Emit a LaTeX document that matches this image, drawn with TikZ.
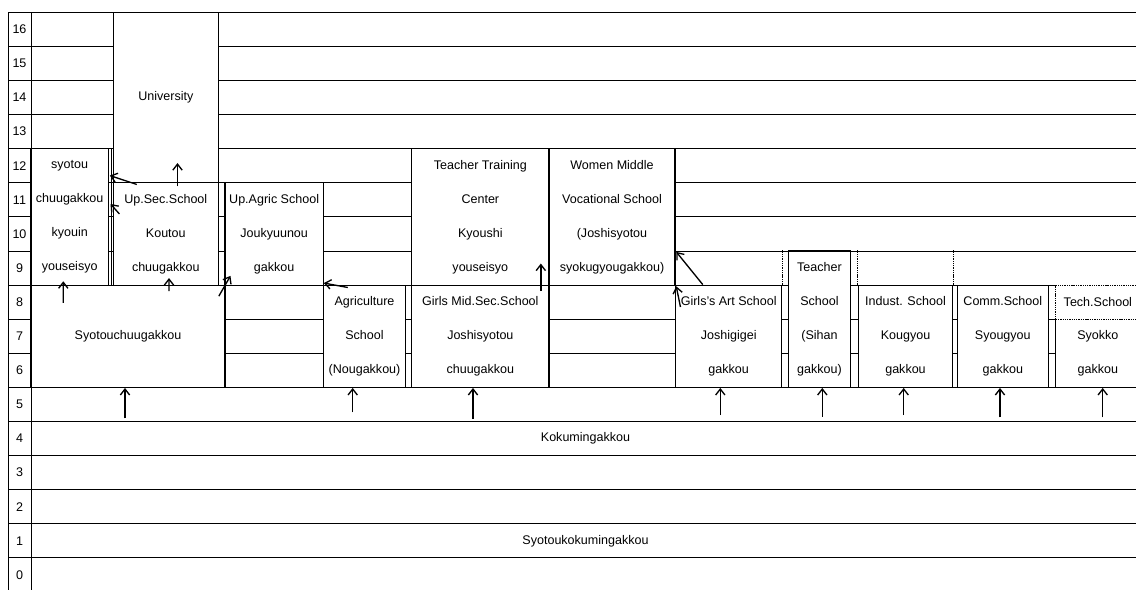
\documentclass[tikz,border=0pt]{standalone}
\usepackage{fontspec}
\setmainfont{Liberation Sans}
\usetikzlibrary{arrows.meta}
\newcommand{\chartfont}{\fontsize{9.4pt}{25.575pt}\selectfont}
\begin{document}
\begin{tikzpicture}[x=0.75pt, y=25.575pt, every node/.style={font=\chartfont, inner sep=0pt},
  school/.style 2 args={draw=black, fill=white, line width=0.8pt, minimum width=#1*0.75pt, minimum height=#2*25.575pt, align=center},
  flow/.style={-{Straight Barb[length=4.5pt,width=7pt]}, line width=1pt},
  rule/.style={draw=black, line width=0.75pt},
  broken/.style={draw=black, line width=0.6pt, dash pattern=on 1pt off 0.7pt}]
\useasboundingbox (0,0.361) rectangle (1136,-16.912);
\foreach \r in {0,...,16} \draw [rule] (8,-\r) -- (1140,-\r);
\draw [rule] (8,0) -- (8,-17);
\draw [rule] (31,0) -- (31,-17);
\foreach \r in {0,...,16} \node (lv\r) at (19.5,\r-16.5) {\r};
\node [school={105}{5}] (univ) at (165.8,-2.5) {University};
\node [school={77.3}{4}] (syotou) at (69.65,-6) {syotou\\chuugakkou\\kyouin\\youseisyo};
\draw [black, line width=0.8pt] ([shift={(2.4,0)}]syotou.north east) -- ([shift={(2.4,0)}]syotou.south east);
\node [school={105}{3}] (upsec) at (165.8,-6.5) {Up.Sec.School\\Koutou\\chuugakkou};
\node [school={98.3}{3}] (upagric) at (274.15,-6.5) {Up.Agric School\\Joukyuunou\\gakkou};
\node [school={194}{3}] (syoc) at (128,-9.5) {Syotouchuugakkou};
\node [school={82.4}{3}] (agri) at (364.5,-9.5) {Agriculture\\School\\(Nougakkou)};
\node [school={137.3}{4}] (teach) at (480.35,-6) {Teacher Training\\Center\\Kyoushi\\youseisyo};
\node [school={137.3}{3}] (girlsmid) at (480.35,-9.5) {Girls Mid.Sec.School\\Joshisyotou\\chuugakkou};
\node [school={126}{4}] (women) at (612,-6) {Women Middle\\Vocational School\\(Joshisyotou\\syokugyougakkou)};
\node [school={106}{3}] (girlsart) at (728.7,-9.5) {Girls's Art School\\Joshigigei\\gakkou};
\node [school={62.4}{4}] (sihan) at (819.5,-9) {Teacher\\School\\(Sihan\\gakkou)};
\node [school={94.4}{3}] (indust) at (905.5,-9.5) {Indust. School\\Kougyou\\gakkou};
\node [school={91}{3}] (comm) at (1002.8,-9.5) {Comm.School\\Syougyou\\gakkou};
\node [school={84.3}{2}, draw=none] (syokko) at (1097.85,-10) {Syokko\\gakkou};
\draw [black, line width=0.8pt] (syokko.north west) -- (syokko.south west) -- (syokko.south east);
\node [school={84.3}{1}, broken] (tech) at (1097.85,-8.5) {Tech.School};
\draw [broken] (girlsart.north east) -- ++(0,1);
\draw [broken] (indust.north west) -- ++(0,1);
\draw [broken] (indust.north east) -- ++(0,1);
\node (koku) at (585.5,-12.5) {Kokumingakkou};
\node (syokoku) at (585.5,-15.5) {Syotoukokumingakkou};
\draw [flow] ([shift={(-64.7,-0.534)}]syoc.north) -- ([shift={(-6.35,0.129)}]syotou.south);
\draw [flow] ([shift={(41,-0.194)}]syoc.north) -- ([shift={(3.2,0.223)}]upsec.south);
\draw [flow] ([shift={(-6.7,-0.34)}]syoc.north east) -- ([shift={(6,0.287)}]upagric.south west);
\draw [flow] ([shift={(24,-0.064)}]upsec.north west) -- ([shift={(1,-0.801)}]syotou.north east);
\draw [flow] ([shift={(6.7,-0.93)}]upsec.north west) -- ([shift={(1.7,-1.636)}]syotou.north east);
\draw [flow] ([shift={(11.7,-0.123)}]upsec.north) -- ([shift={(11.7,0.595)}]univ.south);
\draw [flow] ([shift={(25,-0.085)}]agri.north west) -- ([shift={(0,0.076)}]upagric.south east);
\draw [flow] ([shift={(-8.7,-0.194)}]girlsmid.north east) -- ([shift={(-8.7,0.648)}]teach.south east);
\draw [flow] ([shift={(27.6,0)}]girlsart.north west) -- ([shift={(0.7,0.991)}]women.south east);
\draw [flow] ([shift={(5.3,-0.657)}]girlsart.north west) -- ([shift={(0.7,-0.018)}]women.south east);
\foreach \s/\x/\y in {syoc/125/-11.906, agri/352.7/-11.73, girlsmid/473/-11.927, girlsart/720.3/-11.809, sihan/822.3/-11.859, indust/903.7/-11.809, comm/1000/-11.877, syokko/1102.7/-11.877}
{
\coordinate (from-\s) at (\x,\y);
\draw [flow] (from-\s) -- (from-\s |- \s.south);
}
\end{tikzpicture}
\end{document}
